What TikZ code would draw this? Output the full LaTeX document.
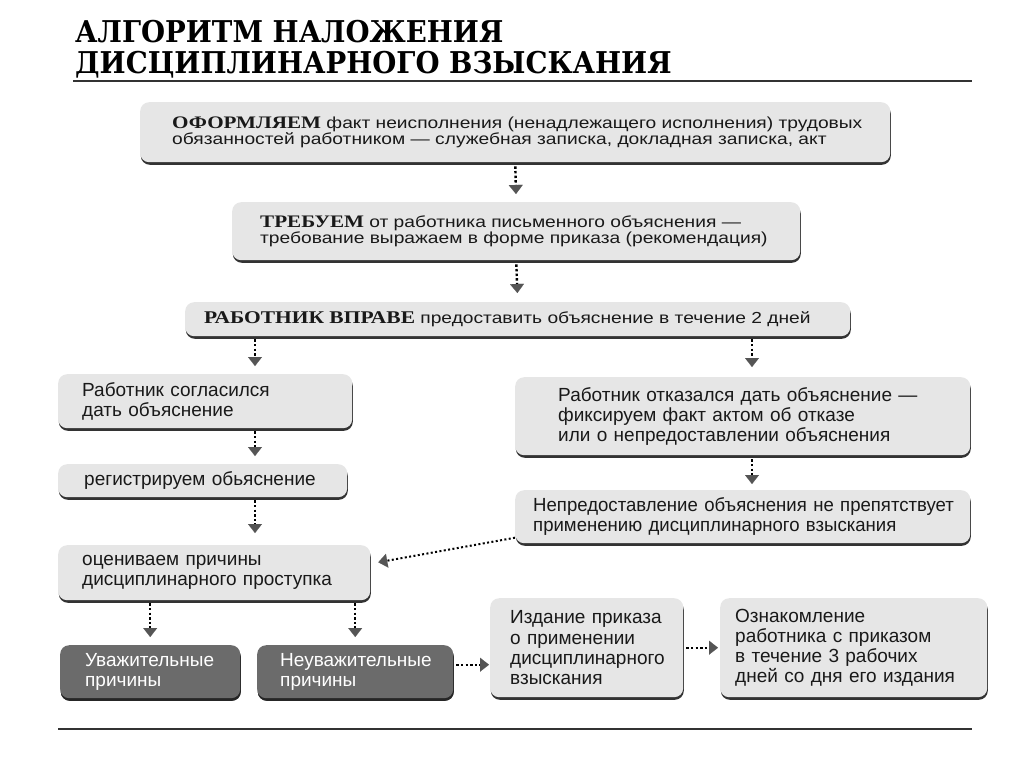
\documentclass[tikz,border=0pt]{standalone}
\usepackage{fontspec}
\setmainfont{Liberation Sans}
\newfontfamily\headserif[FakeStretch=0.92]{DejaVu Serif}
\newfontfamily\keyfont[FakeStretch=1.2]{Liberation Serif}
\newfontfamily\widefont[FakeStretch=1.2]{Liberation Sans}
\newfontfamily\snugfont[FakeStretch=0.978]{Liberation Sans}
\usetikzlibrary{arrows.meta,shadows}
\newcommand{\kw}[2][17.6]{{\keyfont\bfseries\fontsize{#1}{16}\selectfont #2}}
\newcommand{\hd}[1]{{\headserif\bfseries\fontsize{30}{34}\selectfont #1}}
\newcommand{\topfont}{\widefont\fontsize{16}{15.5}\selectfont}
\newcommand{\lowfont}{\fontsize{19}{20.2}\selectfont}
\definecolor{boxgray}{HTML}{E6E6E6}
\definecolor{darkbox}{HTML}{6B6B6B}
\definecolor{tipgray}{HTML}{555555}
\tikzset{
  stepbox/.style={anchor=north west,rounded corners=9pt,fill=boxgray,inner ysep=0pt,
    align=left,text=black!90,
    drop shadow={shadow xshift=0.6pt,shadow yshift=-2.6pt,fill=black!80,opacity=1}},
  darkstep/.style={stepbox,fill=darkbox,text=white,
    drop shadow={shadow xshift=0.6pt,shadow yshift=-2.6pt,fill=black!85,opacity=1}},
  flow/.style={line width=2.4pt,dash pattern=on 2.4pt off 2.2pt,
    -{Triangle[width=14pt,length=9pt,line width=0.1pt,color=tipgray]}},
  titletext/.style={anchor=base west,inner sep=0pt},
  rule/.style={line width=1.6pt,black!80}
}
\begin{document}
\begin{tikzpicture}[x=1pt,y=-1pt]
\useasboundingbox (0,0) rectangle (1019,771);
% title
\node[titletext] (t1) at (75,42) {\hd{АЛГОРИТМ НАЛОЖЕНИЯ}};
\node[titletext] (t2) at (75,73) {\hd{ДИСЦИПЛИНАРНОГО ВЗЫСКАНИЯ}};
\draw[rule,line width=2.2pt] (73,81) -- (972,81);
% columns of the arrows
\coordinate (colL) at (255,0);
\coordinate (colR) at (752,0);
% boxes
\node[stepbox,font=\topfont,text width=686pt,inner xsep=32pt,minimum height=60pt] (oform) at (140,102)
  {\mbox{\kw{ОФОРМЛЯЕМ} факт неисполнения (ненадлежащего исполнения) трудовых}\\обязанностей работником — служебная записка, докладная записка, акт};
\node[stepbox,font=\topfont,text width=512pt,inner xsep=28pt,minimum height=58pt] (treb) at (232,202)
  {\kw{ТРЕБУЕМ} от работника письменного объяснения —\\\mbox{требование выражаем в форме приказа (рекомендация)}};
\node[stepbox,font=\topfont,text width=627pt,inner xsep=19pt,minimum height=34pt] (vprave) at (185,302)
  {\kw[17.9]{РАБОТНИК ВПРАВЕ} предоставить объяснение в течение 2 дней};
\node[stepbox,font=\lowfont,text width=246pt,inner xsep=24pt,minimum height=54pt] (soglas) at (58,374)
  {Работник согласился\\дать объяснение};
\node[stepbox,font=\lowfont,text width=369pt,inner xsep=43pt,minimum height=78pt] (otkaz) at (515,377)
  {Работник отказался дать объяснение —\\фиксируем факт актом об отказе\\или о непредоставлении объяснения};
\node[stepbox,font=\lowfont,text width=237pt,inner xsep=26pt,minimum height=33pt] (registr) at (58,464)
  {регистрируем обьяснение};
\node[stepbox,font=\lowfont\snugfont,text width=419pt,inner xsep=18pt,minimum height=53pt] (neprep) at (515,490)
  {\mbox{Непредоставление объяснения не препятствует}\\применению дисциплинарного взыскания};
\node[stepbox,font=\lowfont,text width=264pt,inner xsep=24pt,minimum height=55pt] (ocenka) at (58,545)
  {оцениваем причины\\дисциплинарного проступка};
\node[darkstep,font=\lowfont,text width=130pt,inner xsep=25pt,minimum height=53pt] (uvaz) at (60,645)
  {Уважительные\\причины};
\node[darkstep,font=\lowfont,text width=150pt,inner xsep=23pt,minimum height=53pt] (neuvaz) at (257,645)
  {Неуважительные\\причины};
\node[stepbox,font=\lowfont,text width=153pt,inner xsep=20pt,minimum height=99pt] (prikaz) at (490,598)
  {Издание приказа\\о применении\\дисциплинарного\\взыскания};
\node[stepbox,font=\lowfont,text width=237pt,inner xsep=15pt,minimum height=99pt] (oznak) at (720,598)
  {Ознакомление\\работника с приказом\\в течение 3 рабочих\\дней со дня его издания};
% arrows
\draw[flow,shorten <=4pt,shorten >=8pt] (oform.south) -- (treb.north);
\draw[flow,shorten <=4pt,shorten >=9pt] (treb.south) -- (vprave.north);
\draw[flow,shorten <=3pt,shorten >=8pt] (vprave.south -| colL) -- (soglas.north -| colL);
\draw[flow,shorten <=3pt,shorten >=10pt] (vprave.south -| colR) -- (otkaz.north -| colR);
\draw[flow,shorten <=3pt,shorten >=8pt] (soglas.south -| colL) -- (registr.north -| colL);
\draw[flow,shorten <=4pt,shorten >=6pt] (otkaz.south -| colR) -- (neprep.north -| colR);
\draw[flow,shorten <=3pt,shorten >=12pt] (registr.south -| colL) -- (ocenka.north -| colL);
\draw[flow,line width=2pt,dash pattern=on 2pt off 2.4pt,shorten >=8pt] ([yshift=-21pt]neprep.west) -- ([yshift=9pt]ocenka.east);
\draw[flow,shorten <=3pt,shorten >=8pt] (ocenka.south -| uvaz.north) -- (uvaz.north);
\draw[flow,shorten <=3pt,shorten >=8pt] (ocenka.south -| neuvaz.north) -- (neuvaz.north);
\draw[flow,shorten <=3pt,shorten >=1pt] ([yshift=7pt]neuvaz.east) -- ([yshift=7pt]neuvaz.east -| prikaz.west);
\draw[flow,shorten <=3pt,shorten >=2pt] (prikaz.east) -- (oznak.west);
% bottom line
\draw[rule] (58,729) -- (972,729);
\end{tikzpicture}
\end{document}
